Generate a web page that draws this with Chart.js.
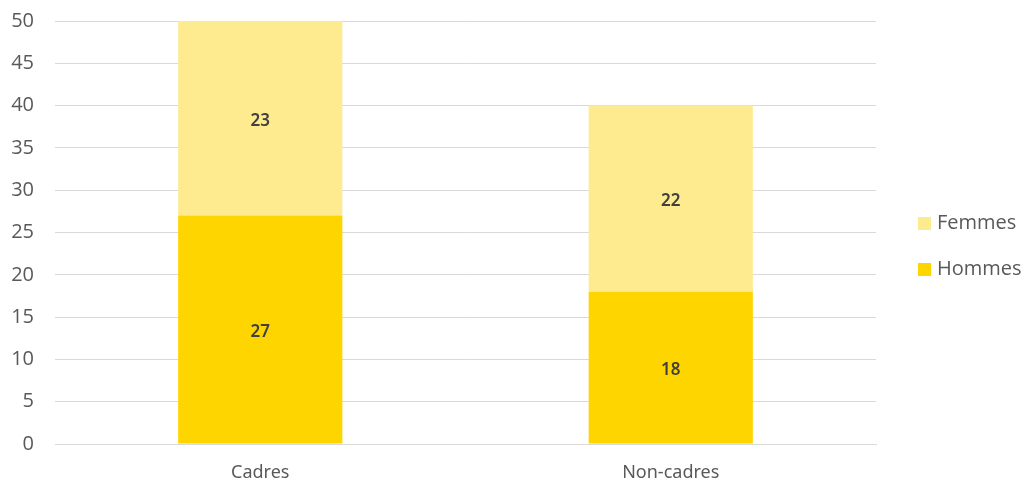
<!DOCTYPE html>
<html>
<head>
<meta charset="utf-8">
<script src="https://cdn.jsdelivr.net/npm/chart.js@4"></script>
<style>
  html, body { margin: 0; padding: 0; background: #ffffff; }
  #wrap { width: 1027px; height: 480px; }
</style>
</head>
<body>
<div id="wrap"><canvas id="chart" width="1027" height="480"></canvas></div>
<script>
// Effectifs par catégorie
const categories = ['Cadres', 'Non-cadres'];
const hommes = [27, 18];
const femmes = [23, 22];
const yTicks = [0, 5, 10, 15, 20, 25, 30, 35, 40, 45, 50];

const TEXT = '#595959';
const LEGEND_FONT = '20px "Open Sans", sans-serif';

// Writes each segment's value at the centre of its bar
const valueLabels = {
  id: 'valueLabels',
  afterDatasetsDraw(chart) {
    const ctx = chart.ctx;
    ctx.save();
    ctx.font = '600 17px "Noto Sans", sans-serif';
    ctx.fillStyle = '#404040';
    ctx.textAlign = 'center';
    ctx.textBaseline = 'middle';
    chart.data.datasets.forEach((ds, i) => {
      const meta = chart.getDatasetMeta(i);
      meta.data.forEach((bar, j) => {
        const p = bar.getProps(['x', 'y', 'base'], true);
        ctx.fillText(String(ds.data[j]), p.x, (p.y + p.base) / 2 + 2.5);
      });
    });
    ctx.restore();
  }
};

// Legend on the right: last series on top, small square swatch + name
const sideLegend = {
  id: 'sideLegend',
  afterDraw(chart) {
    const ctx = chart.ctx;
    const area = chart.chartArea;
    const items = chart.data.datasets.slice().reverse();
    const rowGap = 46;
    const box = 13;
    const x0 = area.right + 42;
    const midY = (area.top + area.bottom) / 2 + 14;
    const firstY = midY - rowGap * (items.length - 1) / 2;
    ctx.save();
    ctx.font = LEGEND_FONT;
    ctx.textAlign = 'left';
    ctx.textBaseline = 'middle';
    items.forEach((ds, k) => {
      const cy = firstY + k * rowGap;
      ctx.fillStyle = ds.backgroundColor;
      ctx.fillRect(x0, Math.round(cy - box / 2), box, box);
      ctx.fillStyle = TEXT;
      ctx.fillText(ds.label, x0 + box + 6, cy);
    });
    ctx.restore();
  }
};

new Chart(document.getElementById('chart'), {
  type: 'bar',
  data: {
    labels: categories,
    datasets: [
      { label: 'Hommes', data: hommes, backgroundColor: '#FFD500', borderWidth: 0 },
      { label: 'Femmes', data: femmes, backgroundColor: '#FFEB8F', borderWidth: 0 }
    ]
  },
  options: {
    responsive: false,
    animation: false,
    devicePixelRatio: 1,
    categoryPercentage: 0.8,
    barPercentage: 0.5,
    layout: { padding: { top: 21, right: 151, bottom: 0, left: 0 } },
    plugins: {
      tooltip: { enabled: false },
      legend: { display: false }
    },
    scales: {
      x: {
        stacked: true,
        afterFit(axis) {
          axis.height = 36;
          axis.paddingLeft = 0;
          axis.paddingRight = 0;
        },
        grid: { display: false, drawTicks: false },
        border: { display: true, color: '#d9d9d9', width: 1 },
        ticks: {
          color: TEXT,
          padding: 18,
          font: { family: '"Noto Sans", sans-serif', size: 18 }
        }
      },
      y: {
        stacked: true,
        min: 0,
        max: 50,
        afterBuildTicks(axis) { axis.ticks = yTicks.map(v => ({ value: v })); },
        afterFit(axis) {
          axis.width = 55;
          axis.paddingTop = 0;
          axis.paddingBottom = 0;
        },
        grid: { color: '#d9d9d9', lineWidth: 1, drawTicks: false },
        border: { display: false },
        ticks: {
          color: TEXT,
          padding: 21,
          font: { family: '"Open Sans", sans-serif', size: 20 }
        }
      }
    }
  },
  plugins: [valueLabels, sideLegend]
});
</script>
</body>
</html>
